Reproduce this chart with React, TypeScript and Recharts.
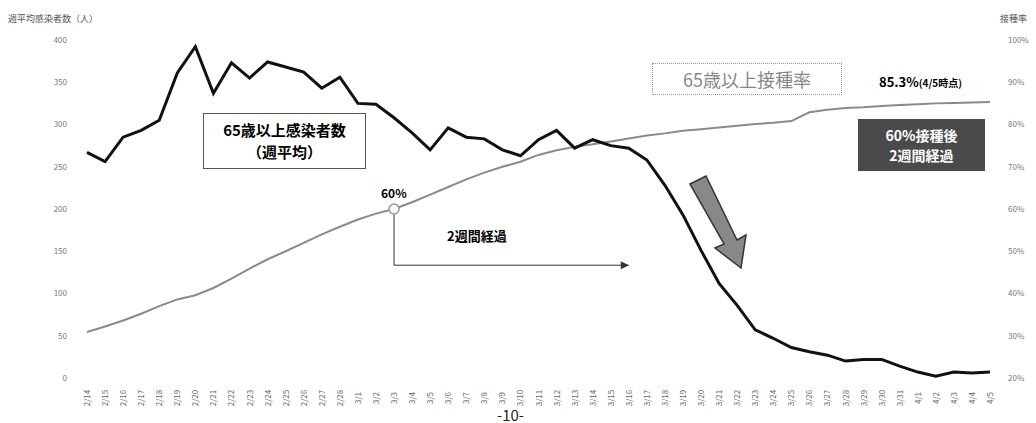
import { LineChart, Line, XAxis, YAxis, ReferenceDot, ReferenceLine } from 'recharts';

const dates = [
  '2/14', '2/15', '2/16', '2/17', '2/18', '2/19', '2/20', '2/21', '2/22', '2/23', '2/24', '2/25', '2/26', '2/27', '2/28',
  '3/1', '3/2', '3/3', '3/4', '3/5', '3/6', '3/7', '3/8', '3/9', '3/10', '3/11', '3/12', '3/13', '3/14', '3/15',
  '3/16', '3/17', '3/18', '3/19', '3/20', '3/21', '3/22', '3/23', '3/24', '3/25', '3/26', '3/27', '3/28', '3/29',
  '3/30', '3/31', '4/1', '4/2', '4/3', '4/4', '4/5',
];

// 65歳以上感染者数（週平均）
const infected = [
  267, 256, 285, 293, 305, 361, 392, 337, 373, 355, 374, 368, 362, 343, 356, 325, 324,
  308, 290, 270, 296, 285, 283, 270, 263, 282, 293, 272, 282, 275, 272, 258, 228, 193,
  151, 112, 86, 57, 47, 36, 31, 27, 20, 22, 22, 14, 7, 2, 7, 6, 7,
];

// 65歳以上接種率 (%)
const vaccinated = [
  30.9, 32.2, 33.6, 35.2, 37.0, 38.6, 39.6, 41.3, 43.5, 45.9, 48.1, 50.0, 52.0, 54.0, 55.8, 57.5, 58.9,
  60.0, 61.6, 63.4, 65.2, 67.0, 68.6, 70.0, 71.2, 72.8, 73.9, 74.7, 75.3, 76.0, 76.7, 77.4, 77.9, 78.5,
  78.9, 79.3, 79.7, 80.1, 80.4, 80.8, 82.9, 83.5, 83.9, 84.1, 84.4, 84.6, 84.8, 85.0, 85.1, 85.2, 85.3,
];

const leftTicks = [0, 50, 100, 150, 200, 250, 300, 350, 400];
const rightTicks = [20, 30, 40, 50, 60, 70, 80, 90, 100];

const data = dates.map((d, i) => ({ date: d, infected: infected[i], rate: vaccinated[i] }));

const jp = '"Noto Sans CJK JP", "Noto Sans", sans-serif';

const DateTick = (props: any) => {
  const { x, y, payload } = props;
  return (
    <g transform={`translate(${x},${y + 12}) rotate(-90)`}>
      <text textAnchor="middle" dy={3} fontSize={8} fill="#666" fontFamily={jp}>
        {payload.value}
      </text>
    </g>
  );
};

const ArrowHead = (props: any) => {
  const { cx, cy } = props;
  return <path d={`M${cx - 8},${cy - 4} L${cx},${cy} L${cx - 8},${cy + 4} Z`} fill="#333" />;
};

const App = () => {
  return (
    <div style={{ position: 'absolute', left: 0, top: 0, width: 1036, height: 423, background: '#fff', fontFamily: jp }}>
      <LineChart width={1036} height={423} data={data} margin={{ top: 40, right: 16, left: 27, bottom: 5 }}>
        <XAxis dataKey="date" interval={0} axisLine={false} tickLine={false} height={40} tick={<DateTick />} />
        <YAxis
          yAxisId="left"
          domain={[0, 400]}
          ticks={leftTicks}
          width={60}
          axisLine={false}
          tickLine={false}
          tickMargin={14}
          tick={{ fontSize: 8, fill: '#777' }}
        />
        <YAxis
          yAxisId="right"
          orientation="right"
          domain={[20, 100]}
          ticks={rightTicks}
          width={30}
          axisLine={false}
          tickLine={false}
          tickMargin={12}
          tickFormatter={(v) => `${v}%`}
          tick={{ fontSize: 8, fill: '#777' }}
        />
        <Line yAxisId="right" dataKey="rate" stroke="#8a8a8a" strokeWidth={2} dot={false} isAnimationActive={false} />
        <Line yAxisId="left" dataKey="infected" stroke="#111" strokeWidth={3} dot={false} isAnimationActive={false} />
        <ReferenceLine
          yAxisId="right"
          segment={[{ x: '3/3', y: 60 }, { x: '3/3', y: 46.7 }]}
          stroke="#333"
          strokeWidth={1}
        />
        <ReferenceLine
          yAxisId="right"
          segment={[{ x: '3/3', y: 46.7 }, { x: '3/16', y: 46.7 }]}
          stroke="#333"
          strokeWidth={1}
        />
        <ReferenceDot yAxisId="right" x="3/16" y={46.7} r={4} shape={<ArrowHead />} />
        <ReferenceDot yAxisId="right" x="3/3" y={60} r={5} fill="#fff" stroke="#999" strokeWidth={1.5} />
      </LineChart>

      <div style={{ position: 'absolute', left: 8, top: 12, fontSize: 9, color: '#555' }}>週平均感染者数（人）</div>
      <div style={{ position: 'absolute', left: 1000, top: 12, fontSize: 9, color: '#555', whiteSpace: 'nowrap' }}>接種率</div>

      <div
        style={{
          position: 'absolute', left: 203, top: 113, width: 163, height: 56, border: '1px solid #555',
          background: '#fff', textAlign: 'center', fontSize: 15, fontWeight: 700, lineHeight: '22px', paddingTop: 5, boxSizing: 'border-box',
        }}
      >
        65歳以上感染者数
        <br />
        （週平均）
      </div>

      <div style={{ position: 'absolute', left: 381, top: 184, fontSize: 12, fontWeight: 700 }}>60%</div>
      <div style={{ position: 'absolute', left: 447, top: 226, fontSize: 13, fontWeight: 700 }}>2週間経過</div>

      <div
        style={{
          position: 'absolute', left: 652, top: 63, width: 190, height: 32, border: '1px dotted #999',
          textAlign: 'center', fontSize: 18, color: '#888', lineHeight: '30px', boxSizing: 'border-box',
        }}
      >
        65歳以上接種率
      </div>
      <div style={{ position: 'absolute', left: 879, top: 72, fontSize: 13, fontWeight: 700, whiteSpace: 'nowrap' }}>
        85.3%<span style={{ fontSize: 10 }}>(4/5時点)</span>
      </div>

      <div
        style={{
          position: 'absolute', left: 858, top: 119, width: 127, height: 52, background: '#4a4a4a', color: '#fff',
          textAlign: 'center', fontSize: 14, fontWeight: 700, lineHeight: '20px', paddingTop: 6, boxSizing: 'border-box',
        }}
      >
        60%接種後
        <br />
        2週間経過
      </div>

      <svg style={{ position: 'absolute', left: 0, top: 0 }} width={1036} height={423}>
        <path
          d="M690,184 L706,176 L737,240 L746,235 L741,268 L715,248 L724,244 Z"
          fill="#888"
          stroke="#333"
          strokeWidth={1.5}
        />
      </svg>

      <div style={{ position: 'absolute', left: 497, top: 404, fontSize: 15, color: '#222' }}>-10-</div>
    </div>
  );
};

export default App;
